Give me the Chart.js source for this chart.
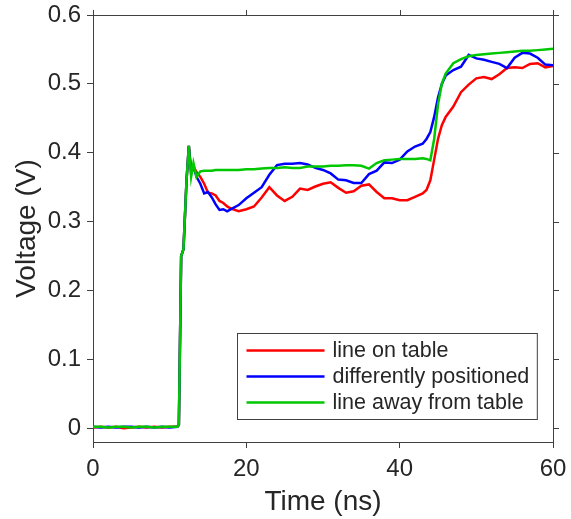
<!DOCTYPE html>
<html>
<head>
<meta charset="utf-8">
<script src="https://cdn.jsdelivr.net/npm/chart.js@4"></script>
<style>
  html, body { margin: 0; padding: 0; background: #fff; }
  #wrap { width: 571px; height: 519px; }
</style>
</head>
<body>
<div id="wrap"><canvas id="voltChart" width="571" height="519"></canvas></div>
<script>
// time axis (ns), shared by all three traces
const timeNs = [0,1,2,3,4,5,6,7,8,9,10,11,11.2,11.5,11.8,12.2,12.5,12.8,13.1,13.5,
  14,14.5,15,15.5,16,16.5,17,17.5,18,
  19,20,21,22,23,24,25,26,27,28,29,30,31,32,33,34,35,36,37,38,39,40,41,42,43,
  43.5,44,44.5,45,45.5,46,
  47,48,49,50,51,52,53,54,55,56,57,58,59,60];

const lineOnTable = [0.001,0.002,0.001,0.002,0.000,0.001,0.002,0.001,0.002,0.001,0.002,0.002,
  0.005,0.25,0.26,0.36,0.41,0.375,0.38,0.372,
  0.365,0.355,0.342,0.341,0.338,0.330,0.327,0.322,0.319,
  0.315,0.318,0.322,0.335,0.350,0.338,0.330,0.336,0.348,0.346,0.351,0.355,0.357,0.349,0.342,0.344,0.352,0.354,0.343,0.334,0.334,0.331,0.331,0.336,0.341,
  0.346,0.36,0.39,0.42,0.44,0.452,
  0.467,0.488,0.499,0.508,0.510,0.507,0.514,0.523,0.524,0.523,0.529,0.530,0.524,0.526];

const differentlyPositioned = [0.002,0.001,0.002,0.001,0.002,0.002,0.001,0.002,0.001,0.002,0.001,0.002,
  0.005,0.25,0.26,0.36,0.41,0.37,0.38,0.365,
  0.355,0.341,0.343,0.335,0.325,0.317,0.318,0.315,0.318,
  0.324,0.334,0.342,0.350,0.368,0.382,0.384,0.384,0.385,0.383,0.378,0.375,0.370,0.361,0.360,0.356,0.356,0.369,0.374,0.386,0.385,0.390,0.402,0.409,0.413,
  0.42,0.43,0.452,0.48,0.50,0.512,
  0.520,0.525,0.542,0.537,0.535,0.532,0.529,0.523,0.538,0.545,0.544,0.538,0.528,0.527];

const lineAwayFromTable = [0.002,0.002,0.001,0.002,0.002,0.001,0.002,0.002,0.001,0.002,0.002,0.002,
  0.005,0.25,0.26,0.36,0.41,0.365,0.385,0.365,
  0.373,0.374,0.374,0.374,0.375,0.375,0.375,0.375,0.375,
  0.375,0.376,0.376,0.377,0.378,0.378,0.379,0.378,0.378,0.380,0.380,0.380,0.381,0.381,0.382,0.382,0.381,0.377,0.385,0.389,0.390,0.391,0.391,0.391,0.392,
  0.391,0.389,0.42,0.47,0.50,0.515,
  0.530,0.536,0.540,0.542,0.543,0.544,0.545,0.546,0.547,0.548,0.548,0.549,0.550,0.551];

const seriesNames = ['line on table', 'differently positioned', 'line away from table'];
const seriesColors = ['#ff0000', '#0000ff', '#00c800'];
const xTicks = [0, 20, 40, 60];
const yTicks = [0, 0.1, 0.2, 0.3, 0.4, 0.5, 0.6];

const AXIS_COLOR = '#404040';
const TEXT_COLOR = '#262626';
const FONT = '"Liberation Sans", Arial, sans-serif';

function toPoints(values) {
    return values.map((v, i) => ({ x: timeNs[i], y: v }));
}

// box outline + outward ticks on the top and right sides (MATLAB style box)
const mirrorBox = {
    id: 'mirrorBox',
    afterDraw(chart) {
        const { ctx, chartArea: a, scales } = chart;
        ctx.save();
        ctx.strokeStyle = AXIS_COLOR;
        ctx.lineWidth = 1;
        ctx.beginPath();
        ctx.moveTo(a.left, a.top + 0.5);
        ctx.lineTo(a.right + 0.5, a.top + 0.5);
        ctx.lineTo(a.right + 0.5, a.bottom);
        scales.x.ticks.forEach(t => {
            const px = Math.round(scales.x.getPixelForValue(t.value)) + 0.5;
            ctx.moveTo(px, a.top);
            ctx.lineTo(px, a.top - 5);
        });
        scales.y.ticks.forEach(t => {
            const py = Math.round(scales.y.getPixelForValue(t.value)) + 0.5;
            ctx.moveTo(a.right, py);
            ctx.lineTo(a.right + 6, py);
        });
        ctx.stroke();
        ctx.restore();
    }
};

// legend box in the lower right of the plot area
const boxLegend = {
    id: 'boxLegend',
    afterDraw(chart) {
        const { ctx, chartArea: a } = chart;
        const sets = chart.data.datasets;
        ctx.save();
        ctx.font = '21.5px ' + FONT;
        const textW = Math.max(...sets.map(d => ctx.measureText(d.label).width));
        const lineLen = 78, rowH = 26, padL = 9, gap = 8, padR = 8;
        const w = padL + lineLen + gap + textW + padR;
        const h = rowH * sets.length + 8;
        const x0 = Math.round(a.right - 16 - w) + 0.5;
        const y0 = Math.round(a.bottom - 23 - h) + 0.5;
        ctx.fillStyle = '#fff';
        ctx.fillRect(x0, y0, w, h);
        ctx.strokeStyle = AXIS_COLOR;
        ctx.lineWidth = 1;
        ctx.strokeRect(x0, y0, w, h);
        ctx.textBaseline = 'middle';
        sets.forEach((d, i) => {
            const cy = y0 + 4 + rowH * i + rowH / 2;
            ctx.strokeStyle = d.borderColor;
            ctx.lineWidth = 2.5;
            ctx.beginPath();
            ctx.moveTo(x0 + padL, cy);
            ctx.lineTo(x0 + padL + lineLen, cy);
            ctx.stroke();
            ctx.fillStyle = TEXT_COLOR;
            ctx.fillText(d.label, x0 + padL + lineLen + gap, cy + 1);
        });
        ctx.restore();
    }
};

const allSeries = [lineOnTable, differentlyPositioned, lineAwayFromTable];

new Chart(document.getElementById('voltChart'), {
    type: 'line',
    data: {
        datasets: allSeries.map((vals, i) => ({
            label: seriesNames[i],
            data: toPoints(vals),
            borderColor: seriesColors[i],
            backgroundColor: seriesColors[i],
            borderWidth: 2.5,
            pointRadius: 0,
            tension: 0,
            fill: false,
            order: allSeries.length - i
        }))
    },
    options: {
        responsive: false,
        animation: false,
        devicePixelRatio: 1,
        layout: { padding: { top: 15, right: 18, left: 0, bottom: 0 } },
        plugins: {
            legend: { display: false },
            tooltip: { enabled: false }
        },
        scales: {
            x: {
                type: 'linear',
                min: 0, max: 60,
                afterBuildTicks: s => { s.ticks = xTicks.map(v => ({ value: v })); },
                afterFit: s => { s.height = 77; s.paddingLeft = 0; s.paddingRight = 0; },
                grid: { drawOnChartArea: false, tickLength: 6, color: AXIS_COLOR },
                border: { color: AXIS_COLOR, width: 1 },
                ticks: { color: TEXT_COLOR, font: { family: FONT, size: 24 }, padding: 7, maxRotation: 0 },
                title: { display: true, text: 'Time (ns)', color: TEXT_COLOR, font: { family: FONT, size: 28 }, padding: { top: 13, bottom: 0 } }
            },
            y: {
                min: -0.02, max: 0.6,
                afterBuildTicks: s => { s.ticks = yTicks.map(v => ({ value: v })); },
                afterFit: s => { s.width = 93; s.paddingTop = 0; s.paddingBottom = 0; },
                grid: { drawOnChartArea: false, tickLength: 6, color: AXIS_COLOR },
                border: { color: AXIS_COLOR, width: 1 },
                ticks: { color: TEXT_COLOR, font: { family: FONT, size: 24 }, padding: 6 },
                title: { display: true, text: 'Voltage (V)', color: TEXT_COLOR, font: { family: FONT, size: 28 }, padding: { top: 10, bottom: 0 } }
            }
        }
    },
    plugins: [mirrorBox, boxLegend]
});
</script>
</body>
</html>
